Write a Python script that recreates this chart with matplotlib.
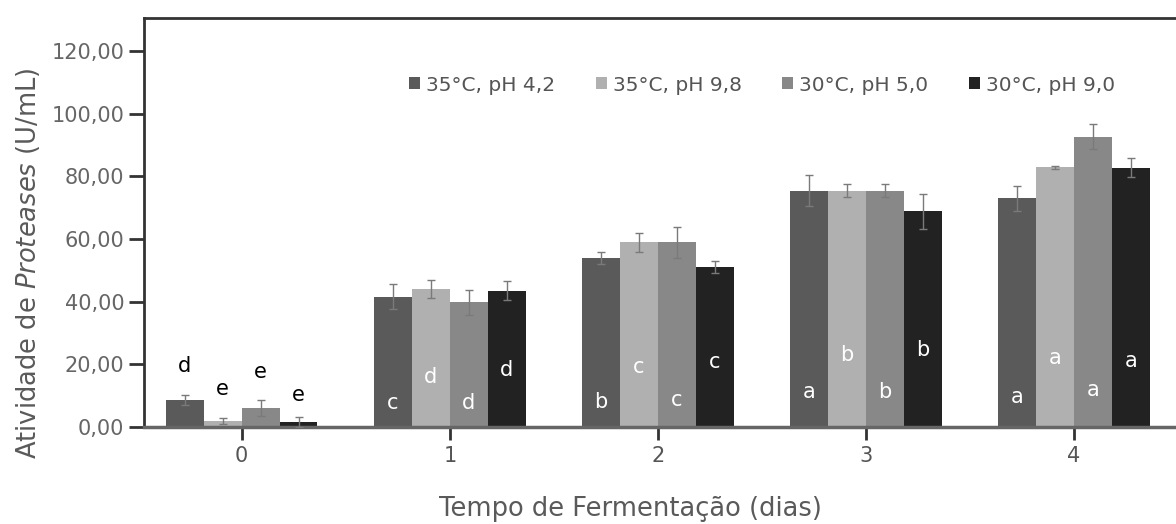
import matplotlib
matplotlib.use("Agg")
import matplotlib.pyplot as plt
import numpy as np

plt.rcParams['font.family'] = ['DejaVu Sans']
plt.rcParams['mathtext.fontset'] = 'dejavusans'

days = ["0", "1", "2", "3", "4"]
series = ["35°C, pH 4,2", "35°C, pH 9,8", "30°C, pH 5,0", "30°C, pH 9,0"]
colors = ["#5a5a5a", "#b0b0b0", "#888888", "#222222"]

v_35_42 = [8.5, 41.5, 54.0, 75.5, 73.0]
v_35_98 = [1.8, 44.0, 59.0, 75.5, 83.0]
v_30_50 = [6.0, 39.8, 59.0, 75.5, 92.7]
v_30_90 = [1.4, 43.5, 51.0, 68.8, 82.8]
values = [v_35_42, v_35_98, v_30_50, v_30_90]

e_35_42 = [1.5, 4.0, 2.0, 5.0, 4.0]
e_35_98 = [1.0, 3.0, 3.0, 2.0, 0.5]
e_30_50 = [2.5, 4.0, 5.0, 2.2, 4.0]
e_30_90 = [1.7, 3.0, 2.0, 5.5, 3.0]
errors = [e_35_42, e_35_98, e_30_50, e_30_90]

l_35_42 = ["d", "c", "b", "a", "a"]
l_35_98 = ["e", "d", "c", "b", "a"]
l_30_50 = ["e", "d", "c", "b", "a"]
l_30_90 = ["e", "d", "c", "b", "a"]
letters = [l_35_42, l_35_98, l_30_50, l_30_90]
# vertical positions of the letters (data units)
ly_35_42 = [19.5, 7.5, 8.0, 11.0, 9.5]
ly_35_98 = [12.0, 16.0, 19.0, 23.0, 22.0]
ly_30_50 = [17.5, 7.5, 8.5, 11.0, 11.7]
ly_30_90 = [10.0, 18.0, 20.5, 24.5, 21.0]
letter_y = [ly_35_42, ly_35_98, ly_30_50, ly_30_90]

yticks = [0, 20, 40, 60, 80, 100, 120]
ytick_labels = ["0,00", "20,00", "40,00", "60,00", "80,00", "100,00", "120,00"]

fig = plt.figure(figsize=(11.76, 5.24), dpi=100)
ax = fig.add_axes([0.1224, 0.186, 0.8776, 0.7796])

x = np.arange(len(days))
w = 0.182
for i in range(4):
    pos = x + (i - 1.5) * w
    ax.bar(pos, values[i], width=w, color=colors[i], label=series[i], zorder=2)
    ax.errorbar(pos, values[i], yerr=errors[i], fmt='none', ecolor='#7a7a7a',
                elinewidth=1.0, capsize=3, capthick=1.0, zorder=3)
    for j in range(len(days)):
        col = 'black' if j == 0 else 'white'
        ax.text(pos[j], letter_y[i][j], letters[i][j], ha='center', va='center',
                fontsize=15, color=col, zorder=4)

ax.set_xlim(-0.47, 4.49)
ax.set_ylim(0, 130.7)
ax.set_xticks(x)
ax.set_xticklabels(days)
ax.set_yticks(yticks)
ax.set_yticklabels(ytick_labels)

ax.tick_params(axis='y', length=11, width=2, color='#333333', labelsize=15,
               labelcolor='#666666', pad=3)
ax.tick_params(axis='x', length=9, width=2, color='#333333', labelsize=15,
               labelcolor='#555555', pad=5)

for s in ['top', 'left']:
    ax.spines[s].set_linewidth(2)
    ax.spines[s].set_color('#333333')
ax.spines['bottom'].set_linewidth(2.5)
ax.spines['bottom'].set_color('#666666')
ax.spines['right'].set_visible(False)

ax.set_ylabel(r'Atividade de $\it{Proteases}$ (U/mL)', fontsize=18.5, color='#5a5a5a')
ax.yaxis.set_label_coords(-0.099, 0.40)
ax.set_xlabel('Tempo de Fermentação (dias)', fontsize=18.5, color='#5a5a5a')
ax.xaxis.set_label_coords(0.471, -0.171)

leg = ax.legend(loc='center', bbox_to_anchor=(0.599, 0.836), ncol=4, frameon=False,
                fontsize=14.5, handlelength=0.55, handleheight=0.55, handletextpad=0.3,
                columnspacing=2.0, labelcolor='#555555')

fig.savefig("out.png", dpi=100)
